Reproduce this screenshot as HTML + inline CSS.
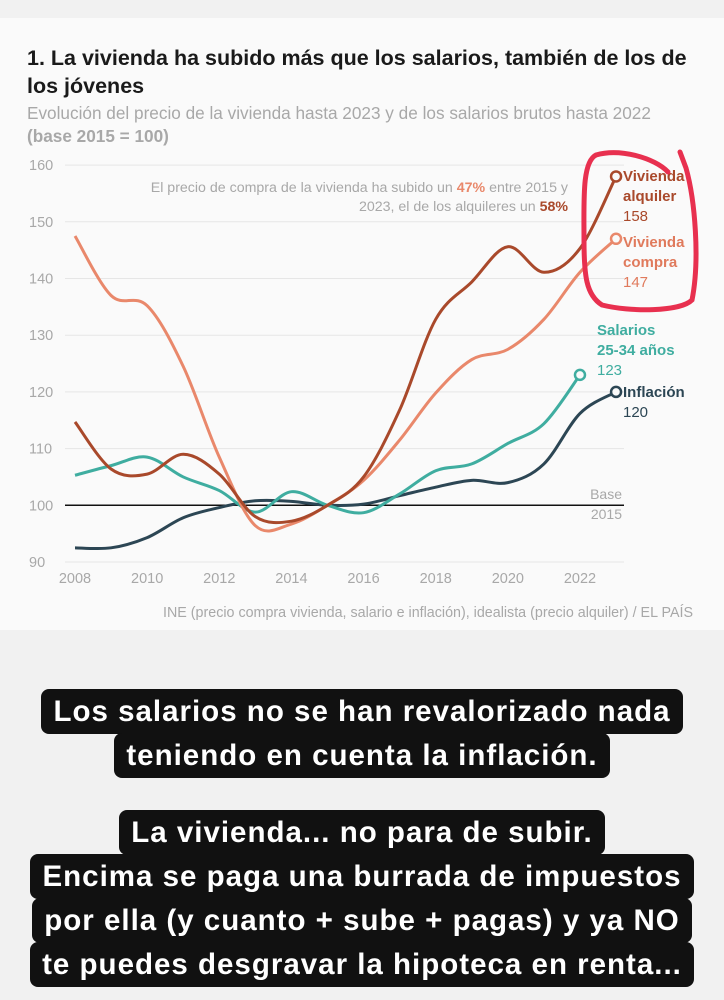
<!DOCTYPE html>
<html><head><meta charset="utf-8">
<style>
body{margin:0;width:724px;height:1000px;background:#f1f1f1;font-family:"Liberation Sans",sans-serif;overflow:hidden;position:relative}
#card{position:absolute;left:0;top:18px;width:724px;height:612px;background:#fafafa}
.t{position:absolute;white-space:nowrap}
#cap{position:absolute;left:0;top:690px;width:724px;text-align:center;font-weight:bold;font-size:29.5px;letter-spacing:1px;line-height:44px;color:#fff}
#cap span{background:#111;padding:6px 12px;border-radius:8px;-webkit-box-decoration-break:clone;box-decoration-break:clone}
</style></head><body>
<div id="card"></div>
<div class="t" style="left:27px;top:44px;font-size:21.5px;font-weight:bold;color:#1a1a1a;line-height:28px">1. La vivienda ha subido más que los salarios, también de los de<br>los jóvenes</div>
<div class="t" style="left:27px;top:102px;font-size:17.2px;color:#a8a8a8;line-height:23px">Evolución del precio de la vivienda hasta 2023 y de los salarios brutos hasta 2022<br><b>(base 2015 = 100)</b></div>
<svg id="chart" width="724" height="640" style="position:absolute;left:0;top:0"></svg>
<div id="cap">
<span>Los salarios no se han revalorizado nada</span><br><span>teniendo en cuenta la inflación.</span><br><div style="height:33px"></div><span>La vivienda... no para de subir.</span><br><span>Encima se paga una burrada de impuestos</span><br><span>por ella (y cuanto + sube + pagas) y ya NO</span><br><span>te puedes desgravar la hipoteca en renta...</span>
</div>
<script>
const years=[2008,2009,2010,2011,2012,2013,2014,2015,2016,2017,2018,2019,2020,2021,2022,2023];
const alquiler=[114.7,106.4,105.5,109,105.5,98,97.2,100,105,116.8,132.8,139.4,145.6,141.1,145.3,158];
const compra=[147.5,137,135.2,124.5,108.5,96.4,96.7,100,104.4,111.5,119.8,125.7,127.5,132.8,141.1,147];
const salariosYears=[2008,2009,2010,2011,2012,2013,2014,2015,2016,2017,2018,2019,2020,2021,2022];
const salarios=[105.3,107,108.5,105,102.6,98.8,102.4,100,98.7,102,106.1,107.3,110.9,114.4,123];
const inflacion=[92.5,92.5,94.3,97.8,99.6,100.8,100.7,100,100.2,101.7,103.2,104.4,104,107.3,116.2,120];
const yTicks=[90,100,110,120,130,140,150,160];
const xTicks=[2008,2010,2012,2014,2016,2018,2020,2022];
const svg=document.getElementById('chart');const NS='http://www.w3.org/2000/svg';
const X=y=>75+(y-2008)*36.07;const Y=v=>562-(v-90)*5.67;
function mk(tag,at,txt){const e=document.createElementNS(NS,tag);for(const k in at)e.setAttribute(k,at[k]);if(txt!=null)e.textContent=txt;svg.appendChild(e);return e;}
yTicks.forEach(v=>{
 const g=mk('line',{x1:65,x2:624,y1:Y(v),y2:Y(v),stroke:v===100?'#111':'#e6e6e6','stroke-width':v===100?1.5:1});
 
 
 const t=mk('text',{x:29,y:Y(v)+5,'font-size':14.5,fill:'#a8a8a8','font-family':'Liberation Sans'},v);
 
 
});
xTicks.forEach(y=>{
 const t=mk('text',{x:X(y),y:583,'font-size':14.5,fill:'#a8a8a8','text-anchor':'middle','font-family':'Liberation Sans'},y);
 
 
});
function path(xs,vs){const p=xs.map((x,i)=>[X(x),Y(vs[i])]);let d='M'+p[0];for(let i=0;i<p.length-1;i++){const p0=p[i-1]||p[i],p1=p[i],p2=p[i+1],p3=p[i+2]||p2;const c1=[p1[0]+(p2[0]-p0[0])/6,p1[1]+(p2[1]-p0[1])/6],c2=[p2[0]-(p3[0]-p1[0])/6,p2[1]-(p3[1]-p1[1])/6];d+='C'+c1+' '+c2+' '+p2;}return d;}
function series(xs,vs,col,name){
 const l=mk('path',{d:path(xs,vs),fill:'none',stroke:col,'stroke-width':3});
 
 
 const c=mk('circle',{cx:X(xs[xs.length-1]),cy:Y(vs[vs.length-1]),r:5,fill:'#fafafa',stroke:col,'stroke-width':2.5});
 
 
}
series(years,inflacion,'#2c4654','inflacion');
series(salariosYears,salarios,'#3fada0','salarios');
series(years,compra,'#e9886b','compra');
series(years,alquiler,'#a9492b','alquiler');
function lab(x,y,lines,col,name,anchor,fs){const t=mk('text',{x:x,y:y,'font-size':fs||15,fill:col,'font-family':'Liberation Sans','text-anchor':anchor||'start'});
 
 
 lines.forEach((l,i)=>{const s=document.createElementNS(NS,'tspan');s.setAttribute('x',x);s.setAttribute('dy',i?20:0);if(l[1])s.setAttribute('font-weight','bold');s.textContent=l[0];t.appendChild(s);});}
lab(623,181,[['Vivienda',1],['alquiler',1],['158',0]],'#a9492b','label-alquiler');
lab(623,247,[['Vivienda',1],['compra',1],['147',0]],'#e07a5c','label-compra');
lab(597,335,[['Salarios',1],['25-34 años',1],['123',0]],'#3fada0','label-salarios');
lab(623,397,[['Inflación',1],['120',0]],'#2c4654','label-inflacion');
lab(622,499,[['Base',0],['2015',0]],'#a8a8a8','label-base','end',14);
const a=mk('text',{x:568,y:192,'font-size':14.2,fill:'#a8a8a8','text-anchor':'end','font-family':'Liberation Sans'});


a.innerHTML='<tspan x="568">El precio de compra de la vivienda ha subido un <tspan font-weight="bold" fill="#e9886b">47%</tspan> entre 2015 y</tspan><tspan x="568" dy="19">2023, el de los alquileres un <tspan font-weight="bold" fill="#a9492b">58%</tspan></tspan>';
const s=mk('text',{x:693,y:617,'font-size':14.3,fill:'#a8a8a8','text-anchor':'end','font-family':'Liberation Sans'},'INE (precio compra vivienda, salario e inflación), idealista (precio alquiler) / EL PAÍS');


const r=mk('path',{d:'M668,172 C655,158 620,148 596,155 C582,162 584,200 584,240 C584,275 586,295 602,305 C630,312 680,312 692,300 C700,260 695,200 686,168 L680,152',fill:'none',stroke:'#e8304f','stroke-width':5,'stroke-linecap':'round'});


</script>
</body></html>
